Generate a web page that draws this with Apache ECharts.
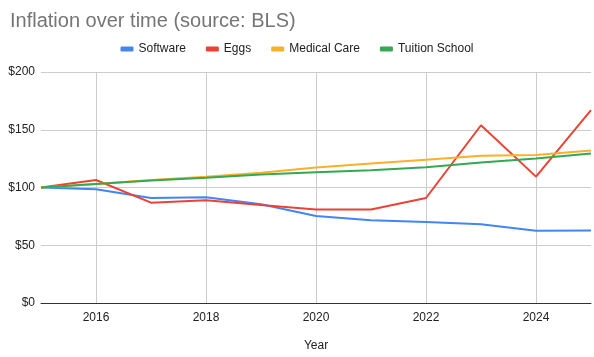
<!DOCTYPE html>
<html>
<head>
<meta charset="utf-8">
<script src="https://cdn.jsdelivr.net/npm/echarts@6/dist/echarts.min.js"></script>
<style>html,body{margin:0;padding:0;background:#fff}#c{width:594px;height:357px}</style>
</head>
<body>
<div id="c"></div>
<script>
const years = ['2015','2016','2017','2018','2019','2020','2021','2022','2023','2024','2025'];
const software = [100, 98.5, 90.9, 91.5, 85.5, 75.3, 71.6, 70.2, 68.2, 62.5, 62.8];
const eggs = [100, 106.5, 86.9, 88.9, 84.8, 80.9, 80.9, 90.9, 153.9, 109.4, 167];
const medical = [100, 103, 106.5, 109.4, 112.8, 117.3, 120.7, 124.1, 127.5, 128.1, 132];
const tuition = [100, 103, 106, 108.5, 111.3, 113.3, 115, 117.6, 121.6, 125.2, 129.5];
const yTicks = [0, 50, 100, 150, 200];

const font = 'Arial, "Liberation Sans", sans-serif';
const chart = echarts.init(document.getElementById('c'), null, {renderer: 'canvas'});
const mk = (name, data, color) => ({
  name, type: 'line', data, symbol: 'none', smooth: false,
  lineStyle: {width: 2, color}, itemStyle: {color}
});
chart.setOption({
  animation: false,
  textStyle: {fontFamily: font},
  title: {
    text: 'Inflation over time (source: BLS)', left: 5, top: 6,
    textStyle: {fontSize: 20, fontWeight: 'normal', color: '#757575', fontFamily: font}
  },
  legend: {
    top: 38, left: 'center', itemWidth: 13, itemHeight: 5, itemGap: 20,
    icon: 'roundRect',
    textStyle: {fontSize: 12, color: '#222', fontFamily: font},
    data: ['Software', 'Eggs', 'Medical Care', 'Tuition School']
  },
  grid: {left: 41, right: 3, top: 72, bottom: 51, containLabel: false},
  xAxis: {
    type: 'category', data: years, boundaryGap: false,
    name: 'Year', nameLocation: 'middle', nameGap: 37,
    nameTextStyle: {fontSize: 12, color: '#222', fontFamily: font},
    axisLine: {lineStyle: {color: '#333', width: 1}},
    axisTick: {show: false},
    axisLabel: {interval: (i) => i % 2 === 1, color: '#222', fontSize: 12, margin: 9, fontFamily: font},
    splitLine: {show: true, interval: (i) => i % 2 === 1, lineStyle: {color: '#cccccc', width: 1}}
  },
  yAxis: {
    type: 'value', min: yTicks[0], max: yTicks[yTicks.length - 1], interval: 50,
    axisLine: {show: false}, axisTick: {show: false},
    axisLabel: {formatter: (v) => '$' + v, color: '#222', fontSize: 12, margin: 6, fontFamily: font},
    splitLine: {lineStyle: {color: '#cccccc', width: 1}}
  },
  series: [
    mk('Software', software, '#4285F4'),
    mk('Eggs', eggs, '#EA4335'),
    mk('Medical Care', medical, '#FAB02A'),
    mk('Tuition School', tuition, '#34A853')
  ]
});
</script>
</body>
</html>
